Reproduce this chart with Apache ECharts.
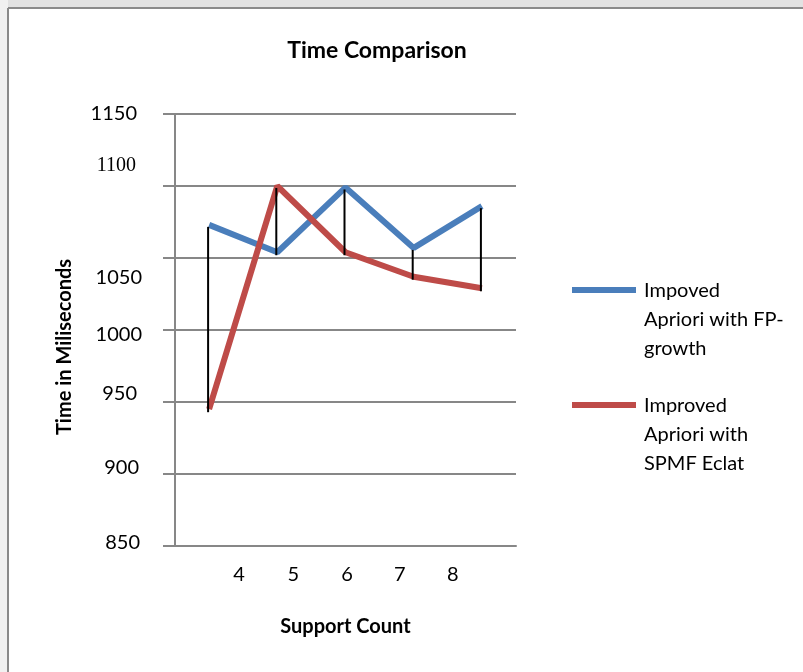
<!DOCTYPE html>
<html>
<head>
<meta charset="utf-8">
<script src="https://cdn.jsdelivr.net/npm/echarts@6/dist/echarts.min.js"></script>
<style>
html,body{margin:0;padding:0;background:#fff;}
#chart{width:803px;height:672px;}
</style>
</head>
<body>
<div id="chart"></div>
<script>
// ---- data ----
const categories = ['4', '5', '6', '7', '8'];
const fpGrowth = [1073, 1054, 1099, 1057, 1086];
const spmfEclat = [945, 1100, 1054, 1037, 1029];
const seriesNames = ['Impoved\nApriori with FP-\ngrowth', 'Improved\nApriori with\nSPMF Eclat'];
const yMin = 850, yMax = 1150, yStep = 50;

// ---- label placement styles (layout only) ----
const yLabelStyle = {
  1150: {padding: [0, 5, 0, 0]},
  1100: {padding: [0, 6, 40, 0], fontFamily: '"Liberation Serif", serif'},
  1050: {padding: [40, 0, 0, 0]},
  1000: {padding: [10, 0, 0, 0]},
  950: {padding: [0, 5, 16, 0]},
  900: {padding: [0, 3, 12, 0]},
  850: {padding: [0, 2, 6, 0]}
};
const xLabelPad = [[0, 0, 0, 60], [0, 0, 0, 32], [0, 0, 0, 3], [0, 28, 0, 0], [0, 58, 0, 0]];

const FONT = 'Lato, "Noto Sans", sans-serif';
const yRich = {};
Object.keys(yLabelStyle).forEach(function (k) {
  yRich['v' + k] = Object.assign({fontSize: 20, fontFamily: FONT, color: '#000'}, yLabelStyle[k]);
});
const xRich = {};
xLabelPad.forEach(function (p, i) {
  xRich['c' + i] = {fontSize: 20, fontFamily: FONT, color: '#000', padding: p};
});

const dropData = categories.map(function (c, i) { return [i, fpGrowth[i], spmfEclat[i]]; });

// legend icon: bar near the top of a tall box so it lines up with the first text line
const legendIcon = 'path://M0 0 L67 0 M0 11 L64 11 L64 17 L0 17 Z M0 87 L67 87';

const chart = echarts.init(document.getElementById('chart'));
chart.setOption({
  backgroundColor: '#ffffff',
  animation: false,
  graphic: [
    {type: 'rect', shape: {x: 0, y: 0, width: 803, height: 8}, style: {fill: '#e2e2e2'}, z: -10, silent: true},
    {type: 'rect', shape: {x: 0, y: 0, width: 8, height: 672}, style: {fill: '#f1f1f1'}, z: -10, silent: true},
    {type: 'line', shape: {x1: 8, y1: 8, x2: 803, y2: 8}, style: {stroke: '#8a8a8a', lineWidth: 2}, z: -5, silent: true},
    {type: 'line', shape: {x1: 8, y1: 8, x2: 8, y2: 672}, style: {stroke: '#8a8a8a', lineWidth: 2}, z: -5, silent: true}
  ],
  title: {
    text: 'Time Comparison',
    left: 377,
    top: 39,
    textAlign: 'center',
    padding: 0,
    textStyle: {fontFamily: FONT, fontWeight: 'bold', fontSize: 23, color: '#000'}
  },
  legend: {
    orient: 'vertical',
    left: 572,
    top: 276,
    padding: 0,
    itemGap: 28,
    itemWidth: 67,
    itemHeight: 87,
    icon: legendIcon,
    itemStyle: {borderWidth: 0},
    data: seriesNames,
    textStyle: {fontFamily: FONT, fontSize: 20, lineHeight: 29, color: '#000'}
  },
  grid: {left: 175, right: 287, top: 114, bottom: 126, containLabel: false},
  xAxis: {
    type: 'category',
    data: categories,
    boundaryGap: true,
    name: 'Support Count',
    nameLocation: 'middle',
    nameGap: 71,
    nameTextStyle: {fontFamily: FONT, fontWeight: 'bold', fontSize: 20, color: '#000'},
    axisLine: {show: true, lineStyle: {color: '#878787', width: 2}},
    axisTick: {show: false},
    axisLabel: {
      margin: 19,
      formatter: function (v, i) { return '{c' + i + '|' + v + '}'; },
      rich: xRich
    }
  },
  yAxis: {
    type: 'value',
    min: yMin,
    max: yMax,
    interval: yStep,
    name: 'Time in Miliseconds',
    nameLocation: 'middle',
    nameGap: 100,
    nameRotate: 90,
    nameTextStyle: {fontFamily: FONT, fontWeight: 'bold', fontSize: 20, color: '#000', padding: [0, 34, 0, 0]},
    axisLine: {show: true, lineStyle: {color: '#878787', width: 2}},
    axisTick: {show: true, inside: false, length: 12, lineStyle: {color: '#878787', width: 2}},
    splitLine: {show: true, lineStyle: {color: '#878787', width: 2}},
    axisLabel: {
      margin: 33,
      formatter: function (v) { return '{v' + v + '|' + v + '}'; },
      rich: yRich
    }
  },
  series: [
    {
      name: seriesNames[0],
      type: 'line',
      data: fpGrowth,
      symbol: 'none',
      lineStyle: {color: '#4a7ebb', width: 6},
      itemStyle: {color: '#4a7ebb'},
      z: 3
    },
    {
      name: seriesNames[1],
      type: 'line',
      data: spmfEclat,
      symbol: 'none',
      lineStyle: {color: '#be4b48', width: 6},
      itemStyle: {color: '#be4b48'},
      z: 3
    },
    {
      name: 'drop',
      type: 'custom',
      data: dropData,
      z: 4,
      renderItem: function (params, api) {
        const p1 = api.coord([api.value(0), api.value(1)]);
        const p2 = api.coord([api.value(0), api.value(2)]);
        const top = Math.min(p1[1], p2[1]);
        const bot = Math.max(p1[1], p2[1]);
        return {
          type: 'line',
          shape: {x1: p1[0] - 1, y1: top + 2, x2: p1[0] - 1, y2: bot + 3},
          style: {stroke: '#000', lineWidth: 2}
        };
      }
    }
  ]
});
</script>
</body>
</html>
